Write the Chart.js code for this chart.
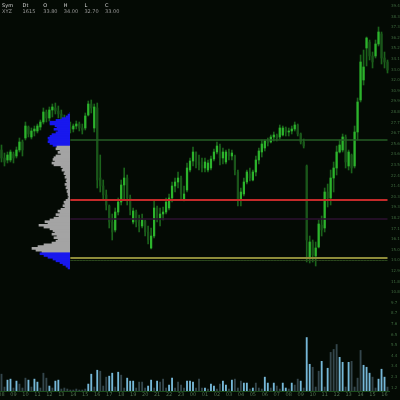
<!DOCTYPE html>
<html>
<head>
<meta charset="utf-8">
<script src="https://cdn.jsdelivr.net/npm/chart.js@4/dist/chart.umd.min.js"></script>
<style>
  html, body { margin: 0; padding: 0; background: #040a04; }
  #wrap { position: relative; width: 400px; height: 400px; }
  #main, #profile { position: absolute; left: 0; top: 0; }
</style>
</head>
<body>
<div id="wrap">
  <canvas id="main" width="400" height="400"></canvas>
  <canvas id="profile" width="70" height="400"></canvas>
</div>
<script>
// price in points (label = points / 10), one candle per slot
const opens = [
  250,242,240,240,246,244,250,258,262,273,
  263,269,269,273,278,288,282,290,292,289,
  286,280,276,273,271,274,276,272,272,285,
  296,272,292,222,214,205,194,178,170,188,
  198,215,222,202,178,188,178,174,179,168,
  152,164,192,182,186,188,192,202,214,218,
  222,200,210,230,239,248,238,235,232,230,
  232,241,248,254,242,238,248,244,244,228,
  200,206,218,226,220,228,240,248,252,259,
  258,263,265,263,265,272,268,269,271,275,
  266,258,234,142,158,144,153,175,172,208,
  202,222,232,248,250,263,234,245,234,268,
  300,320,352,358,344,344,356,366,342,338
];
const highs = [
  255,247,248,250,248,253,262,260,278,274,
  272,274,276,280,292,290,293,296,297,294,
  290,285,282,278,276,279,278,276,287,299,
  300,296,297,245,220,210,195,186,192,202,
  220,232,225,205,192,190,185,186,180,174,
  172,200,194,192,193,202,206,218,222,228,
  224,214,237,242,253,248,245,242,242,240,
  244,251,258,256,252,250,251,250,245,230,
  212,222,230,232,230,244,252,260,260,262,
  265,268,266,275,274,273,272,274,278,276,
  267,261,235,164,160,158,180,184,212,216,
  230,238,254,260,266,265,250,246,274,302,
  345,350,363,360,348,360,373,368,348,340
];
const lows = [
  238,234,237,238,237,242,248,244,260,263,
  261,264,267,270,276,278,279,283,286,282,
  276,272,270,267,268,271,269,266,270,284,
  287,268,212,208,200,190,172,160,168,185,
  195,200,195,185,176,173,168,172,164,156,
  151,162,178,174,180,186,190,198,208,212,
  200,199,208,228,234,232,230,228,228,228,
  230,239,246,235,236,236,240,240,225,194,
  194,204,216,219,219,224,236,243,249,254,
  257,259,259,261,264,264,264,266,269,264,
  256,252,138,137,138,134,152,164,168,193,
  195,208,225,247,248,232,230,227,232,260,
  298,315,334,340,332,342,354,336,332,327
];
const closes = [
  242,238,245,248,242,250,258,250,274,266,
  269,271,274,278,288,282,290,293,289,286,
  280,276,273,271,274,276,272,270,284,296,
  292,293,220,214,205,195,178,168,188,198,
  215,222,202,190,189,178,174,180,168,160,
  164,192,182,186,188,198,202,214,218,222,
  206,206,232,239,248,238,235,232,238,237,
  241,248,254,242,248,248,244,247,230,200,
  208,218,228,222,228,240,249,256,259,257,
  263,265,262,272,272,268,269,271,275,266,
  258,254,160,158,145,152,176,170,208,202,
  222,232,248,255,263,238,248,232,268,298,
  338,333,362,344,338,356,368,342,338,330
];
const volumes = [
  17,4,11,12,3,10,7,3,13,11,
  4,12,9,3,18,13,5,3,10,11,
  2,3,2,1,1,2,1,1,2,7,
  17,4,21,20,5,14,15,18,4,19,
  16,3,13,10,10,3,9,9,3,5,
  11,3,10,9,12,3,6,13,3,9,
  6,3,10,10,9,3,12,3,3,2,
  7,5,2,7,10,6,2,11,12,3,
  10,8,8,2,3,8,3,2,14,8,
  3,8,5,2,8,3,2,8,6,12,
  10,3,54,27,24,4,20,30,4,23,
  39,42,47,34,29,4,29,30,4,13,
  41,26,24,18,14,3,12,22,14,4
];
// L = buy side volume, D = sell side volume
const volTone =
  "DDLLDLDDDL" + "DLLDDDLDLL" + "DDDDDDDDDL" + "LDLDDDLLDL" + "DDLLLDDDDL" +
  "LDLDDDLLDD" + "DDLLLDDDLD" + "LLDDLLDLDD" + "DLLDLDDDLL" + "DLDDLLDLDD" +
  "LDLLDDDLDL" + "DDDLLDLDDD" + "DLLLDDLLLD";

// levels drawn as horizontal lines
const vahLevel = 260;
const pocLevel = 200;
const midLevel = 181;
const valLevel = 142;
const valEdge = 139.5;
const levelStart = 23;

// volume profile, one row per 2 points from the top bin down
const profileTop = 297;
const profileStep = 2;
const profileVol = [
  0,2,4,8,14,20,20,15,13,16,
  12,14,18,20,22,21,22,20,17,13,
  14,10,12,9,14,16,17,15,18,16,
  9,7,8,5,6,4,5,3,4,3,
  5,3,4,2,3,2,2,1,2,4,
  6,5,7,5,9,12,10,14,11,16,
  20,25,22,31,26,20,17,15,18,13,
  16,12,14,18,26,32,38,34,28,30,
  26,22,17,14,10,7,4,2
];

const headNames = ["Sym", "Dt", "O", "H", "L", "C"];

let times = [];
for (let i = 0; i < closes.length; i++) {
  let h = (8 + Math.floor(i / 4)) % 24;
  times.push(String(h).padStart(2, "0") + ":" + String((i % 4) * 15).padStart(2, "0"));
}

Chart.defaults.font.family = "DejaVu Sans";

function fmt(v) {
  return (v / 10).toFixed(2);
}

function levelLine(level, color, width) {
  return {
    type: "line",
    data: closes.map((_, i) => i < levelStart ? null : level),
    borderColor: color,
    borderWidth: width,
    pointRadius: 0,
    order: 0,
    yAxisID: "y"
  };
}

const headerPlugin = {
  id: "header",
  afterDraw(chart) {
    let ctx = chart.ctx;
    let n = closes.length - 1;
    let vals = ["XYZ", times[n].replace(":", ""), fmt(opens[n]), fmt(highs[n]), fmt(lows[n]), fmt(closes[n])];
    ctx.save();
    ctx.font = "5px 'DejaVu Sans'";
    ctx.textBaseline = "top";
    headNames.forEach((name, k) => {
      ctx.fillStyle = "#d8d8d8";
      ctx.fillText(name, 2 + k * 20.6, 3);
      ctx.fillStyle = "#9a9a9a";
      ctx.fillText(vals[k], 2 + k * 20.6, 9);
    });
    ctx.restore();
  }
};

new Chart(document.getElementById("main"), {
  type: "bar",
  data: {
    labels: times,
    datasets: [
      levelLine(vahLevel, "#245e24", 1.5),
      levelLine(pocLevel, "#c42a2a", 2),
      levelLine(midLevel, "#2c1230", 1.5),
      levelLine(valLevel, "#8e8c3a", 2),
      levelLine(valEdge, "#29461c", 1),
      {
        label: "body",
        data: opens.map((o, i) => [o, closes[i]]),
        backgroundColor: opens.map((o, i) => closes[i] > o ? "#2cb42c" : "#1a551a"),
        barThickness: 1.6,
        grouped: false,
        order: 1,
        yAxisID: "y"
      },
      {
        label: "wick",
        data: lows.map((l, i) => [l, highs[i]]),
        backgroundColor: "#1b631b",
        barThickness: 1,
        grouped: false,
        order: 2,
        yAxisID: "y"
      },
      {
        label: "volume",
        data: volumes,
        backgroundColor: volumes.map((_, i) => volTone[i] === "L" ? "#76b8d8" : "#34464c"),
        barThickness: 1.2,
        grouped: false,
        order: 5,
        yAxisID: "yv"
      }
    ]
  },
  options: {
    responsive: false,
    animation: false,
    devicePixelRatio: 1,
    layout: { padding: 0 },
    plugins: { legend: { display: false }, tooltip: { enabled: false } },
    scales: {
      x: {
        grid: { display: false, drawTicks: false },
        border: { display: true, color: "#1c4d1c", width: 1 },
        ticks: {
          autoSkip: false,
          maxRotation: 0,
          minRotation: 0,
          padding: 1,
          color: "#4f6f4f",
          font: { size: 5 },
          callback: (val, idx) => idx % 4 === 0 ? times[idx].slice(0, 2) : ""
        },
        afterFit: s => { s.height = 9; s.paddingLeft = 0; s.paddingRight = 0; }
      },
      y: {
        position: "right",
        min: 9,
        max: 400,
        grid: { display: false, drawTicks: false },
        border: { display: false },
        afterBuildTicks: s => {
          let t = [];
          for (let v = 394; v > 9; v -= 10.6) t.push({ value: v });
          s.ticks = t;
        },
        ticks: {
          padding: 2,
          color: "#3f6a3f",
          font: { size: 4 },
          callback: v => (v / 10).toFixed(1)
        },
        afterFit: s => { s.width = 11; s.paddingTop = 0; s.paddingBottom = 0; }
      },
      yv: {
        display: false,
        min: 0,
        max: 395
      }
    }
  },
  plugins: [headerPlugin]
});

new Chart(document.getElementById("profile"), {
  type: "bar",
  data: {
    datasets: [{
      data: profileVol.map((n, r) => ({ x: n, y: profileTop - profileStep * r })),
      backgroundColor: profileVol.map((_, r) => {
        let lvl = profileTop - profileStep * r;
        return lvl > vahLevel || lvl < valEdge + 0.5 ? "#1818ee" : "#a4a4a4";
      }),
      barThickness: 2,
      grouped: false
    }]
  },
  options: {
    indexAxis: "y",
    responsive: false,
    animation: false,
    devicePixelRatio: 1,
    layout: { padding: { bottom: 9 } },
    plugins: { legend: { display: false }, tooltip: { enabled: false } },
    scales: {
      x: { type: "linear", reverse: true, min: 0, max: 70, display: false },
      y: { type: "linear", min: 9, max: 400, display: false }
    }
  }
});
</script>
</body>
</html>
